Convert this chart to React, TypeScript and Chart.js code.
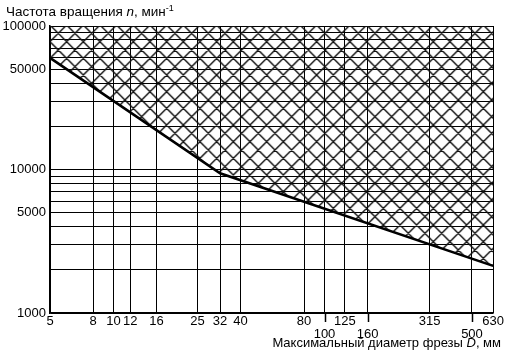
import React, { useEffect, useRef } from "react";
import { Chart, registerables } from "chart.js";

Chart.register(...registerables);

// Diameter ticks (mm)
const xTicks = [5, 8, 10, 12, 16, 25, 32, 40, 80, 100, 125, 160, 315, 500, 630];
// ticks whose labels sit in the second row
const xLowerRow = [100, 160, 500];
// Rotation speed grid (min^-1)
const yGrid = [
  1000, 2000, 3000, 4000, 5000, 6000, 7000, 8000, 9000,
  10000, 20000, 30000, 40000, 50000, 60000, 70000, 80000, 90000, 100000,
];
const yLabels = [1000, 5000, 10000, 50000, 100000];
// Boundary curve
const boundaryD = [5, 32, 630];
const boundaryN = [60000, 9400, 2130];

const FONT = "'Liberation Sans', Arial, Helvetica, sans-serif";

function makeHatch(): CanvasPattern | string {
  const size = 100;
  const period = size / 6;
  const c = document.createElement("canvas");
  c.width = size;
  c.height = size;
  const g = c.getContext("2d");
  if (!g) return "transparent";
  g.strokeStyle = "#111";
  g.lineWidth = 1.45;
  g.beginPath();
  for (let k = -8; k <= 14; k++) {
    const x0 = k * period;
    g.moveTo(x0, 0);
    g.lineTo(x0 + size, size);
    g.moveTo(x0, 0);
    g.lineTo(x0 - size, size);
  }
  g.stroke();
  const p = g.createPattern(c, "repeat");
  if (!p) return "transparent";
  try {
    p.setTransform(new DOMMatrix([1, 0, 0, 1, 8.3, 0]));
  } catch (e) {}
  return p;
}

const longTicks = {
  id: "longTicks",
  afterDraw(chart: any) {
    const xs = chart.scales.x;
    const { ctx, chartArea } = chart;
    ctx.save();
    ctx.strokeStyle = "#000";
    ctx.lineWidth = 1.5;
    ctx.beginPath();
    xLowerRow.forEach((v) => {
      const px = Math.round(xs.getPixelForValue(v)) + 0.5;
      ctx.moveTo(px, chartArea.bottom);
      ctx.lineTo(px, chartArea.bottom + 9);
    });
    ctx.stroke();
    ctx.restore();
  },
};

export default function App() {
  const ref = useRef<HTMLCanvasElement | null>(null);

  useEffect(() => {
    document.body.style.margin = "0";
    if (!ref.current) return;
    const hatch = makeHatch();
    const chart = new Chart(ref.current, {
      type: "line",
      data: {
        datasets: [
          {
            data: boundaryD.map((d, i) => ({ x: d, y: boundaryN[i] })),
            borderColor: "#000",
            borderWidth: 2.6,
            pointRadius: 0,
            fill: "end",
            backgroundColor: hatch as any,
            tension: 0,
          },
        ],
      },
      options: {
        responsive: false,
        animation: false,
        layout: { padding: { top: 26, right: 11, left: 0, bottom: 0 } },
        plugins: {
          legend: { display: false },
          tooltip: { enabled: false },
          title: { display: false },
        },
        scales: {
          x: {
            type: "logarithmic",
            min: 5,
            max: 630,
            afterBuildTicks: (scale: any) => {
              scale.ticks = xTicks.map((v) => ({ value: v }));
            },
            afterFit: (scale: any) => {
              scale.height = 46;
            },
            grid: { color: "#000", lineWidth: 1, drawTicks: false },
            border: { color: "#000", width: 1.5 },
            ticks: {
              autoSkip: false,
              maxRotation: 0,
              padding: 2,
              color: "#000",
              font: { family: FONT, size: 13, lineHeight: 1.0 },
              callback: (v: any) => {
                const n = Number(v);
                return xLowerRow.includes(n) ? ["", String(n)] : String(n);
              },
            },
          },
          y: {
            type: "logarithmic",
            min: 1000,
            max: 100000,
            afterBuildTicks: (scale: any) => {
              scale.ticks = yGrid.map((v) => ({ value: v }));
            },
            afterFit: (scale: any) => {
              scale.width = 50;
            },
            grid: { color: "#000", lineWidth: 1, drawTicks: false },
            border: { color: "#000", width: 1.5 },
            ticks: {
              autoSkip: false,
              padding: 4,
              color: "#000",
              font: { family: FONT, size: 13 },
              callback: (v: any) => {
                const n = Number(v);
                return yLabels.includes(n) ? String(n) : "";
              },
            },
          },
        },
      },
      plugins: [longTicks],
    });
    return () => chart.destroy();
  }, []);

  return (
    <div style={{ position: "relative", width: 506, height: 359, background: "#fff", fontFamily: FONT, color: "#000" }}>
      <canvas ref={ref} width={506} height={359} style={{ display: "block" }} />
      <div style={{ position: "absolute", left: 6, top: 4, fontSize: 13.5, lineHeight: "15px", whiteSpace: "nowrap" }}>
        Частота вращения <i>n</i>, мин
        <sup style={{ fontSize: 9, verticalAlign: "top", position: "relative", top: -3 }}>-1</sup>
      </div>
      <div style={{ position: "absolute", right: 5, top: 335, fontSize: 13, lineHeight: "15px", whiteSpace: "nowrap" }}>
        Максимальный диаметр фрезы <i>D</i>, мм
      </div>
    </div>
  );
}
